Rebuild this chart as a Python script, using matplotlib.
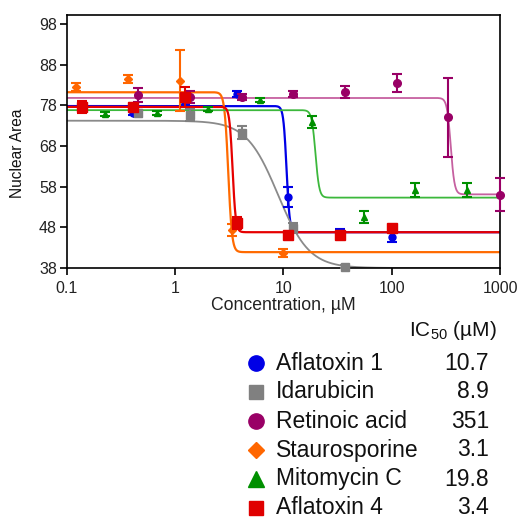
import numpy as np
import matplotlib
matplotlib.use("Agg")
import matplotlib.pyplot as plt
from matplotlib.lines import Line2D

plt.rcParams['font.family'] = ['Liberation Sans', 'DejaVu Sans']
plt.rcParams['mathtext.fontset'] = 'custom'
plt.rcParams['mathtext.rm'] = 'Liberation Sans'

# ---------------- data ----------------
names = ["Aflatoxin 1", "Idarubicin", "Retinoic acid", "Staurosporine", "Mitomycin C", "Aflatoxin 4"]
ic50_labels = ["10.7", "8.9", "351", "3.1", "19.8", "3.4"]

# measured points
aflatoxin1_x = [0.137, 0.41, 1.23, 3.7, 11.1, 33.3, 100]
aflatoxin1_y = [77.0, 76.2, 78.5, 80.8, 55.4, 46.9, 45.7]
aflatoxin1_e = [0.5, 0.5, 0.5, 0.8, 2.5, 0.6, 1.2]

idarubicin_x = [0.457, 1.37, 4.12, 12.3, 37.0]
idarubicin_y = [76.0, 75.6, 71.3, 47.8, 38.3]
idarubicin_e = [0.8, 1.5, 1.5, 1.2, 0.4]

retinoic_x = [0.457, 1.37, 4.12, 12.3, 37.0, 111, 333, 1000]
retinoic_y = [80.5, 80.0, 80.0, 80.8, 81.2, 83.4, 75.0, 56.0]
retinoic_e = [1.8, 1.5, 0.8, 0.8, 1.5, 2.2, 9.6, 4.0]

stauro_x = [0.123, 0.37, 1.11, 3.33, 10.0]
stauro_y = [82.4, 84.4, 84.0, 47.3, 41.6]
stauro_e = [1.0, 1.0, 7.5, 1.5, 1.0]

mitomycin_x = [0.226, 0.68, 2.03, 6.1, 18.3, 55.0, 165, 494]
mitomycin_y = [75.8, 76.0, 77.0, 79.3, 73.9, 50.5, 57.2, 57.2]
mitomycin_e = [0.5, 0.5, 0.5, 0.5, 1.5, 1.5, 1.8, 1.8]

aflatoxin4_x = [0.137, 0.41, 1.23, 3.7, 11.1, 33.3, 100]
aflatoxin4_y = [77.5, 77.6, 80.0, 49.0, 46.0, 46.0, 47.8]
aflatoxin4_e = [1.5, 1.0, 2.5, 1.5, 0.7, 0.7, 0.8]

# fitted 4-parameter logistic parameters: top, bottom, IC50, hill slope
fit_top    = [77.8, 74.2, 79.8, 81.2, 76.8, 77.6]
fit_bottom = [46.8, 38.0, 56.1, 41.9, 55.3, 46.8]
fit_ic50   = [10.7, 8.9, 351, 3.1, 19.8, 3.4]
fit_hill   = [30, 3, 25, 25, 25, 30]

# ---------------- styles ----------------
marker_colors = ["#0000e6", "#808080", "#990066", "#ff6600", "#009000", "#e00000"]
line_colors   = ["#0000e6", "#8a8a8a", "#c660a0", "#ff6a00", "#3cb83c", "#e60000"]
markers       = ["o", "s", "o", "D", "^", "s"]
msizes        = [5, 6, 5.5, 4, 5, 6.5]
lws           = [1.6, 1.3, 1.3, 1.6, 1.3, 1.6]

series = [
    (aflatoxin1_x, aflatoxin1_y, aflatoxin1_e),
    (idarubicin_x, idarubicin_y, idarubicin_e),
    (retinoic_x, retinoic_y, retinoic_e),
    (stauro_x, stauro_y, stauro_e),
    (mitomycin_x, mitomycin_y, mitomycin_e),
    (aflatoxin4_x, aflatoxin4_y, aflatoxin4_e),
]

fig = plt.figure(figsize=(5.19, 5.18), dpi=100)
ax = fig.add_axes([0.1285, 0.4826, 0.9634 - 0.1285, 0.972 - 0.4826])

xs = np.logspace(-1, 3, 2000)
draw_order = [1, 2, 4, 0, 3, 5]
for i in draw_order:
    top, bot, ic, h = fit_top[i], fit_bottom[i], fit_ic50[i], fit_hill[i]
    yfit = bot + (top - bot) / (1 + (xs / ic) ** h)
    ax.plot(xs, yfit, color=line_colors[i], lw=lws[i], zorder=2 + i * 0.1)
for i in draw_order:
    x, y, e = series[i]
    cont = ax.errorbar(x, y, yerr=e, fmt=markers[i], color=marker_colors[i],
                       ms=msizes[i], mec=marker_colors[i], ecolor=marker_colors[i],
                       elinewidth=1.5, capsize=3.5, capthick=1.5, zorder=4 + i * 0.1)
    for art in cont.get_children():
        art.set_clip_on(False)

ax.set_xscale("log")
ax.set_xlim(0.1, 1000)
ax.set_ylim(38, 100.3)
ax.set_xticks([0.1, 1, 10, 100, 1000])
ax.set_xticklabels(["0.1", "1", "10", "100", "1000"])
ax.minorticks_off()
ax.set_yticks([38, 48, 58, 68, 78, 88, 98])
ax.tick_params(direction="out", length=5, width=1.2, labelsize=11.5,
               labelcolor="#222222")
ax.tick_params(axis="x", pad=4)
ax.tick_params(axis="y", pad=2)
for sp in ax.spines.values():
    sp.set_linewidth(1.2)
    sp.set_color("black")
ax.set_xlabel("Concentration, µM", fontsize=12.7, color="#222222", labelpad=1)
ax.set_ylabel("Nuclear Area", fontsize=11.2, color="#111111")
ax.yaxis.set_label_coords(-0.097, 0.4536)

# ---------------- custom legend ----------------
W, H = 519, 518
def fx(px):
    return px / W
def fy(py):
    return 1 - py / H

fig.text(fx(453), fy(330), r"IC$_\mathregular{50}$ (µM)", fontsize=15,
         ha="center", va="center", color="#111111")
row_y = [363, 392, 421, 450, 479, 508]
leg_ms = [11, 10, 11, 8.5, 11, 10]
for i in range(len(names)):
    fig.add_artist(Line2D([fx(256)], [fy(row_y[i])], marker=markers[i],
                          color=marker_colors[i], ms=leg_ms[i], ls="none",
                          transform=fig.transFigure))
    fig.text(fx(276), fy(row_y[i]), names[i], fontsize=16.5, ha="left",
             va="center", color="#111111")
    fig.text(fx(489), fy(row_y[i]), ic50_labels[i], fontsize=16.5, ha="right",
             va="center", color="#111111")

fig.savefig("out.png", dpi=100)
